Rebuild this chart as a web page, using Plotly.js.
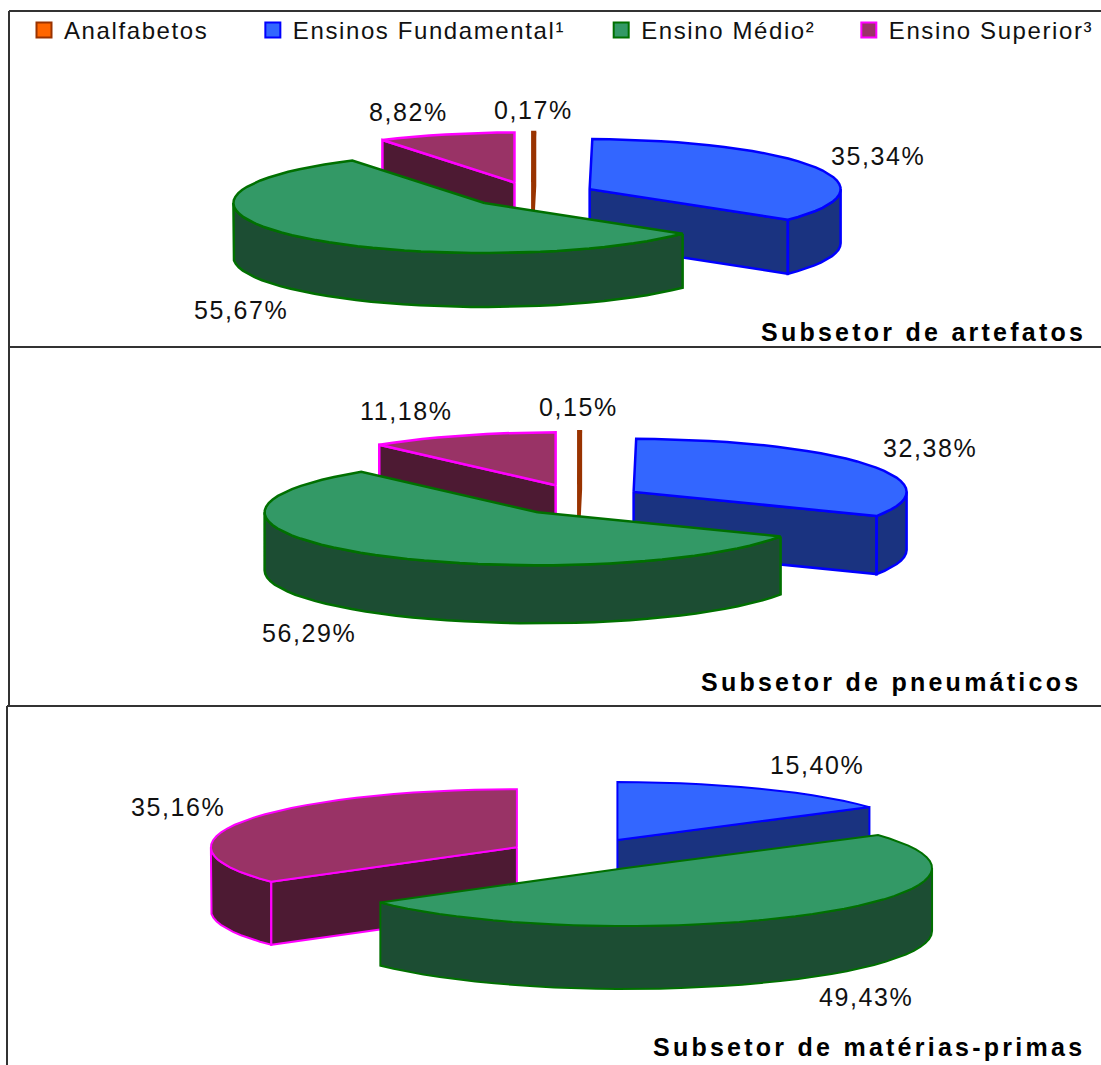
<!DOCTYPE html>
<html>
<head>
<meta charset="utf-8">
<script src="https://cdn.plot.ly/plotly-3.0.1.min.js"></script>
<style>
html,body{margin:0;padding:0;background:#fff;overflow:hidden}
.legendtext{letter-spacing:1.6px}
.legend rect.bg{fill-opacity:0!important}
.annotation-text{letter-spacing:1.6px}
.annotation-text[style*="700"]{letter-spacing:3.25px}
</style>
</head>
<body>
<div id="chart" style="width:1101px;height:1065px"></div>
<script>
const categories = ['Analfabetos', 'Ensinos Fundamental¹', 'Ensino Médio²', 'Ensino Superior³'];
const subsectors = ['Subsetor de artefatos', 'Subsetor de pneumáticos', 'Subsetor de matérias-primas'];
const artefatos = [0.17, 35.34, 55.67, 8.82];
const pneumaticos = [0.15, 32.38, 56.29, 11.18];
const materiasPrimas = [0, 15.40, 49.43, 35.16];

const lidColors = ['#FF6600', '#3366FF', '#339966', '#993366'];
const wallColors = ['#993300', '#1A3380', '#1C4D33', '#4D1A33'];
const edgeColors = ['#993300', '#0000FF', '#007000', '#FF00FF'];

// Projection of each pie on the page: centre, radii, thickness, slice pull
const pies = [
  {values: artefatos,      cx: 532, cy: 194.6, rx: 251, ry: 50, depth: 54, pull: 64, pullY: 12.6, edge: 2.5},
  {values: pneumaticos,    cx: 578, cy: 500,   rx: 273, ry: 53, depth: 58, pull: 65, pullY: 15.7, edge: 2.5},
  {values: materiasPrimas, cx: 583, cy: 854.6, rx: 306, ry: 58, depth: 63, pull: 74, pullY: 16.5, edge: 2}
];
// Label anchors (one per value, then the panel title), null = no label
const labelAnchors = [
  [[533, 110], [878, 156], [241, 310], [408, 112]],
  [[578, 407], [930, 448], [309, 633], [406, 411]],
  [null, [817, 765], [866, 997], [178, 807]]
];
const titleAnchors = [[1088, 332], [1083, 682], [1087, 1047]];

const STEP = 4;
const rad = d => d * Math.PI / 180;

function arc(p, ox, oy, a0, a1, drop) {
  const n = Math.max(1, Math.ceil((a1 - a0) / STEP));
  const pts = [];
  for (let i = 0; i <= n; i++) {
    const a = rad(a0 + (a1 - a0) * i / n);
    pts.push([ox + p.rx * Math.sin(a), oy - p.ry * Math.cos(a) + drop]);
  }
  return pts;
}
function pushPoly(xs, ys, pts) {
  if (xs.length) { xs.push(null); ys.push(null); }
  pts.forEach(q => { xs.push(q[0]); ys.push(q[1]); });
  xs.push(pts[0][0]); ys.push(pts[0][1]);
}

const traces = [];
pies.forEach(p => {
  const total = p.values.reduce((s, v) => s + v, 0);
  let cursor = 0;
  const slices = p.values.map((v, i) => {
    const a0 = cursor, a1 = cursor + v / total * 360;
    cursor = a1;
    return {i, v, a0, a1};
  });
  // paint back to front
  [3, 0, 1, 2].map(k => slices[k]).filter(s => s.v > 0).forEach(s => {
    const mid = rad((s.a0 + s.a1) / 2);
    const ox = p.cx + p.pull * Math.sin(mid);
    const oy = p.cy - p.pullY * Math.cos(mid);
    const wx = [], wy = [];
    const radial = a => {
      const e = arc(p, ox, oy, a, a, 0)[0];
      pushPoly(wx, wy, [[ox, oy], e, [e[0], e[1] + p.depth], [ox, oy + p.depth]]);
    };
    if (Math.sin(rad(s.a0)) < -0.01) radial(s.a0);
    if (Math.sin(rad(s.a1)) > 0.001) radial(s.a1);
    const f0 = Math.max(s.a0, 90), f1 = Math.min(s.a1, 270);
    if (f1 > f0) {
      const top = arc(p, ox, oy, f0, f1, 0);
      const low = arc(p, ox, oy, f0, f1, p.depth).reverse();
      pushPoly(wx, wy, top.concat(low));
    }
    if (wx.length) {
      traces.push({type: 'scatter', mode: 'lines', x: wx, y: wy, fill: 'toself',
        fillcolor: wallColors[s.i], line: {color: edgeColors[s.i], width: p.edge},
        hoverinfo: 'skip', showlegend: false});
    }
    const lid = [[ox, oy]].concat(arc(p, ox, oy, s.a0, s.a1, 0));
    const lx = [], ly = [];
    pushPoly(lx, ly, lid);
    traces.push({type: 'scatter', mode: 'lines', x: lx, y: ly, fill: 'toself',
      fillcolor: lidColors[s.i], line: {color: edgeColors[s.i], width: p.edge},
      name: categories[s.i], hoverinfo: 'skip', showlegend: false});
  });
});

// Legend entries; the padding reproduces the wide spacing between items
const legendPad = ['\u00a0\u00a0\u00a0\u00a0\u2009', '\u00a0\u00a0\u00a0\u2009', '\u00a0\u00a0\u00a0\u200a', ''];
categories.forEach((c, i) => {
  traces.push({type: 'scatter', mode: 'markers', x: [null], y: [null],
    name: c + legendPad[i],
    marker: {symbol: 'square', size: 15, color: lidColors[i], line: {color: edgeColors[i], width: 2}}});
});

const annotations = [];
const fmt = v => v.toFixed(2).replace('.', ',') + '%';
pies.forEach((p, k) => {
  p.values.forEach((v, i) => {
    const a = labelAnchors[k][i];
    if (a) annotations.push({x: a[0], y: a[1], xref: 'x', yref: 'y', text: fmt(v), showarrow: false,
      xanchor: 'center', yanchor: 'middle', font: {family: 'Liberation Sans', size: 25, color: '#111'}});
  });
  annotations.push({x: titleAnchors[k][0], y: titleAnchors[k][1], xref: 'x', yref: 'y',
    text: subsectors[k], showarrow: false, xanchor: 'right', yanchor: 'middle',
    font: {family: 'Liberation Sans', size: 25, weight: 700, color: '#000'}});
});

const frame = (x0, y0, x1, y1) => ({type: 'line', xref: 'x', yref: 'y', x0, y0, x1, y1,
  line: {color: '#333333', width: 2}});

const layout = {
  width: 1101, height: 1065,
  margin: {l: 0, r: 0, t: 0, b: 0},
  paper_bgcolor: '#fff', plot_bgcolor: '#fff',
  xaxis: {range: [0, 1101], visible: false, fixedrange: true},
  yaxis: {range: [1065, 0], visible: false, fixedrange: true},
  showlegend: true,
  legend: {orientation: 'h', x: 0.0218, y: 0.9925, xanchor: 'left', yanchor: 'top',
    bgcolor: 'rgba(0,0,0,0)', itemclick: false, itemdoubleclick: false,
    font: {family: 'Liberation Sans', size: 24, color: '#111'}},
  annotations,
  shapes: [
    frame(9, 11, 1101, 11), frame(9, 11, 9, 706), frame(9, 347, 1101, 347),
    frame(7, 706, 1101, 706), frame(7, 706, 7, 1065)
  ]
};
Plotly.newPlot('chart', traces, layout, {displayModeBar: false, staticPlot: false});
</script>
</body>
</html>
